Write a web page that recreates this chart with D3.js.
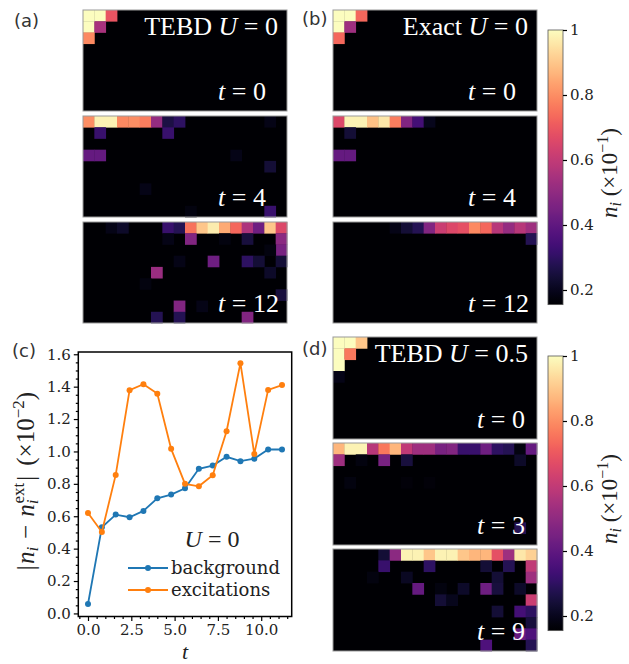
<!DOCTYPE html>
<html>
<head>
<meta charset="utf-8">
<script src="https://cdn.jsdelivr.net/npm/d3@7"></script>
<style>
  body { margin: 0; background: #fff; }
  svg { display: block; }
  .tick text { font-family: "DejaVu Serif", "Liberation Serif", serif; font-size: 15px; fill: #222; }
  .math { font-family: "Liberation Serif", serif; }
  .plab { font-family: "DejaVu Sans", sans-serif; font-size: 18px; fill: #333; }
</style>
</head>
<body>
<svg width="629" height="664"></svg>
<script>
// ---- data ----
// heatmap cells as [row, col, n_i (x10^-1)], everything not listed is below the colour range
var nCols = 18, nRows = 9;
var vmin = 0.155, vmax = 1.0;

var tebd0_t0 = [[0,0,1.0],[0,1,1.0],[0,2,0.69],[1,0,1.0],[1,1,0.55],[2,0,0.79]];
var tebd0_t4 = [[0,0,0.80],[0,1,0.98],[0,2,0.98],[0,3,0.79],[0,4,0.80],[0,5,0.77],[0,6,0.51],[0,7,0.26],[0,8,0.30],[0,16,0.19],
  [1,1,0.32],[1,7,0.32],[3,0,0.41],[3,1,0.41],[3,13,0.19],[4,16,0.24],[6,5,0.19],[8,16,0.32],[8,9,0.18]];
var tebd0_t12 = [[0,2,0.19],[0,3,0.22],[0,7,0.32],[0,8,0.28],[0,9,0.75],[0,10,0.90],[0,11,0.97],[0,12,0.85],[0,13,0.73],[0,14,0.56],[0,15,0.43],[0,16,0.90],[0,17,0.66],
  [1,7,0.19],[1,9,0.47],[1,12,0.18],[1,14,0.25],[1,17,0.49],[2,17,0.45],[2,16,0.18],
  [3,8,0.19],[3,11,0.43],[3,14,0.30],[3,15,0.24],[3,17,0.24],[4,6,0.52],[4,16,0.22],[5,5,0.18],
  [6,17,0.25],[7,8,0.47],[7,10,0.19],[8,6,0.28],[8,8,0.28],[8,14,0.47]];

var exact0_t0 = [[0,0,1.0],[0,1,1.0],[0,2,0.73],[1,0,1.0],[1,1,0.53],[2,0,0.73]];
var exact0_t4 = [[0,0,0.66],[0,1,0.98],[0,2,0.98],[0,3,0.89],[0,4,0.96],[0,5,0.77],[0,6,0.47],[0,7,0.34],[0,8,0.20],
  [1,1,0.24],[3,0,0.41],[3,1,0.41]];
var exact0_t12 = [[0,5,0.19],[0,6,0.24],[0,7,0.28],[0,8,0.47],[0,9,0.62],[0,10,0.66],[0,11,0.68],[0,12,0.79],[0,13,0.73],[0,14,0.58],[0,15,0.51],[0,16,0.58],[0,17,0.53],
  [1,17,0.28]];

var tebd05_t0 = [[0,0,1.0],[0,1,1.0],[0,2,0.90],[1,0,1.0],[1,1,0.76],[2,0,1.0],[3,0,0.19]];
var tebd05_t3 = [[0,0,0.87],[0,1,0.98],[0,2,0.98],[0,3,0.58],[0,4,0.76],[0,5,0.87],[0,6,0.60],[0,7,0.53],[0,8,0.53],[0,9,0.45],[0,10,0.47],[0,11,0.32],[0,12,0.32],[0,13,0.43],[0,14,0.30],[0,15,0.28],[0,16,0.18],[0,17,0.41],
  [1,0,0.53],[1,2,0.18],[1,4,0.45],[1,6,0.25],[1,16,0.22],[3,1,0.18],[3,6,0.17],[3,8,0.17],[7,16,0.28]];
var tebd05_t9 = [[0,4,0.24],[0,5,0.49],[0,6,0.98],[0,7,0.98],[0,8,0.90],[0,9,0.98],[0,10,0.98],[0,11,0.90],[0,12,0.87],[0,13,0.87],[0,14,0.68],[0,15,0.53],[0,16,0.96],[0,17,0.92],
  [1,4,0.32],[1,8,0.30],[1,13,0.24],[1,15,0.28],[1,17,0.60],[2,3,0.18],[2,6,0.21],[2,14,0.24],[2,17,0.53],
  [3,7,0.41],[3,9,0.18],[3,11,0.22],[3,13,0.43],[3,14,0.25],[3,16,0.22],[4,9,0.24],[4,10,0.20],[4,17,0.62],
  [5,14,0.24],[5,16,0.34],[5,17,0.30],[6,17,0.25],[7,16,0.41],[7,17,0.36],[8,13,0.36],[8,17,0.28]];

// panel (c)
var times = [0, 0.8, 1.6, 2.4, 3.2, 4.0, 4.8, 5.6, 6.4, 7.2, 8.0, 8.8, 9.6, 10.4, 11.2];
var background = [0.058, 0.532, 0.61, 0.594, 0.633, 0.711, 0.734, 0.773, 0.893, 0.913, 0.967, 0.94, 0.955, 1.012, 1.012];
var excitations = [0.62, 0.503, 0.855, 1.378, 1.415, 1.357, 1.016, 0.80, 0.785, 0.853, 1.125, 1.545, 0.985, 1.38, 1.41];
var xTicks = [0, 2.5, 5, 7.5, 10];
var yTicks = [0, 0.2, 0.4, 0.6, 0.8, 1.0, 1.2, 1.4, 1.6];
var cbTicks = [0.2, 0.4, 0.6, 0.8, 1];

// ---- drawing ----
var svg = d3.select("svg");
var color = d3.scaleSequential(d3.interpolateMagma).domain([vmin, vmax]).clamp(true);
var serif = "\"DejaVu Serif\", \"Liberation Serif\", serif";

function heatmap(cells, x0, y0, w, h) {
  var g = svg.append("g").attr("transform", "translate(" + x0 + "," + y0 + ")");
  var xs = d3.scaleBand().domain(d3.range(nCols)).range([0, w]);
  var ys = d3.scaleBand().domain(d3.range(nRows)).range([0, h]);
  g.append("rect").attr("width", w).attr("height", h).attr("fill", color(0));
  g.selectAll("rect.cell").data(cells).join("rect")
    .attr("class", "cell")
    .attr("x", function(d) { return xs(d[1]); })
    .attr("y", function(d) { return ys(d[0]); })
    .attr("width", xs.bandwidth() + 0.4)
    .attr("height", ys.bandwidth() + 0.4)
    .attr("fill", function(d) { return color(d[2]); });
  g.append("rect").attr("width", w).attr("height", h)
    .attr("fill", "none").attr("stroke", "#999").attr("stroke-width", 1);
  return g;
}

// math-ish label "name U = val" / "t = val"
function mathLabel(g, x, y, parts, size) {
  var t = g.append("text").attr("class", "math").attr("x", x).attr("y", y)
    .attr("fill", "#fff").style("font-size", size + "px");
  parts.forEach(function(p) {
    t.append("tspan").style("font-style", p[1] ? "italic" : "normal").text(p[0]);
  });
  return t;
}

var hmW = 204, hmH = 101;
var panels = [
  {cells: tebd0_t0,  x: 83,  y: 10,  title: [["TEBD ", 0], ["U", 1], [" = 0", 0]], tv: "0"},
  {cells: tebd0_t4,  x: 83,  y: 116, tv: "4"},
  {cells: tebd0_t12, x: 83,  y: 222, tv: "12"},
  {cells: exact0_t0, x: 333, y: 10,  title: [["Exact ", 0], ["U", 1], [" = 0", 0]], tv: "0"},
  {cells: exact0_t4, x: 333, y: 116, tv: "4"},
  {cells: exact0_t12,x: 333, y: 222, tv: "12"},
  {cells: tebd05_t0, x: 333, y: 337, title: [["TEBD ", 0], ["U", 1], [" = 0.5", 0]], tv: "0", d: 1},
  {cells: tebd05_t3, x: 333, y: 443, tv: "3", d: 1},
  {cells: tebd05_t9, x: 333, y: 549, tv: "9", d: 1}
];

panels.forEach(function(p) {
  var h = p.d ? 102 : hmH;
  var g = heatmap(p.cells, p.x, p.y, hmW, h);
  if (p.title) {
    mathLabel(g, hmW - 9, 25, p.title, 26).attr("text-anchor", "end");
  }
  mathLabel(g, p.d ? 144 : 135, h - 11, [["t", 1], [" = " + p.tv, 0]], 26);
});

// colorbars
var defs = svg.append("defs");
var grad = defs.append("linearGradient").attr("id", "magma")
  .attr("x1", 0).attr("y1", 1).attr("x2", 0).attr("y2", 0);
d3.range(0, 1.0001, 0.02).forEach(function(s) {
  grad.append("stop").attr("offset", s).attr("stop-color", d3.interpolateMagma(s));
});

function colorbar(y1) {
  var x0 = 548, w = 15;
  var cs = d3.scaleLinear().domain([vmin, vmax]).range([y1 + 325 * (1 - vmin), y1]);
  svg.append("rect").attr("x", x0).attr("y", cs(vmax)).attr("width", w)
    .attr("height", cs(vmin) - cs(vmax)).attr("fill", "url(#magma)")
    .attr("stroke", "#555").attr("stroke-width", 0.8);
  var ax = svg.append("g").attr("transform", "translate(" + (x0 + w) + ",0)")
    .call(d3.axisRight(cs).tickValues(cbTicks).tickSize(4).tickPadding(3)
      .tickFormat(function(d) { return d === 1 ? "1" : d3.format(".1f")(d); }));
  ax.select(".domain").remove();
  ax.selectAll(".tick line").attr("stroke", "#000").attr("stroke-width", 1.2);
  var t = svg.append("text").attr("class", "math")
    .attr("transform", "translate(617," + (y1 + 143) + ") rotate(-90)")
    .attr("text-anchor", "middle").style("font-size", "23px").attr("fill", "#222");
  t.append("tspan").style("font-style", "italic").text("n");
  t.append("tspan").attr("dy", 4).style("font-style", "italic").style("font-size", "16px").text("i");
  t.append("tspan").attr("dy", -4).text(" (\u00d710");
  t.append("tspan").attr("dy", -9).style("font-size", "16px").text("\u22121");
  t.append("tspan").attr("dy", 9).text(")");
}
colorbar(30);
colorbar(356);

// panel (c) line chart
var cx0 = 78.3, cx1 = 291.7, cy0 = 352, cy1 = 616.5;
var x = d3.scaleLinear().domain([-0.56, 11.76]).range([cx0, cx1]);
var y = d3.scaleLinear().domain([-0.019, 1.614]).range([cy1, cy0]);

var xMinor = d3.range(-0.5, 11.76, 0.5).filter(function(v) { return Math.abs(v / 2.5 - Math.round(v / 2.5)) > 1e-6; });
var yMinor = d3.range(0, 1.61, 0.05).filter(function(v) { return Math.abs(v / 0.2 - Math.round(v / 0.2)) > 1e-6; });

svg.append("g").attr("transform", "translate(0," + cy1 + ")")
  .call(d3.axisBottom(x).tickValues(xMinor).tickSize(2.5).tickFormat(""))
  .call(function(g) { g.select(".domain").remove(); });
svg.append("g").attr("transform", "translate(" + cx0 + ",0)")
  .call(d3.axisLeft(y).tickValues(yMinor).tickSize(2.5).tickFormat(""))
  .call(function(g) { g.select(".domain").remove(); });
svg.append("g").attr("transform", "translate(0," + cy1 + ")")
  .call(d3.axisBottom(x).tickValues(xTicks).tickSize(4.5).tickPadding(3).tickFormat(d3.format(".1f")))
  .call(function(g) { g.select(".domain").remove(); });
svg.append("g").attr("transform", "translate(" + cx0 + ",0)")
  .call(d3.axisLeft(y).tickValues(yTicks).tickSize(4.5).tickPadding(3).tickFormat(d3.format(".1f")))
  .call(function(g) { g.select(".domain").remove(); });
svg.selectAll(".tick line").attr("stroke", "#000").attr("stroke-width", 1.2);

var series = [
  {name: "background", vals: background, col: "#1f77b4"},
  {name: "excitations", vals: excitations, col: "#ff7f0e"}
];
var line = d3.line().x(function(d) { return x(d[0]); }).y(function(d) { return y(d[1]); });
series.forEach(function(s) {
  var pts = times.map(function(t, i) { return [t, s.vals[i]]; });
  svg.append("path").datum(pts).attr("d", line).attr("fill", "none")
    .attr("stroke", s.col).attr("stroke-width", 1.8);
  svg.append("g").selectAll("circle").data(pts).join("circle")
    .attr("cx", function(d) { return x(d[0]); })
    .attr("cy", function(d) { return y(d[1]); })
    .attr("r", 3).attr("fill", s.col);
});

svg.append("rect").attr("x", cx0).attr("y", cy0).attr("width", cx1 - cx0).attr("height", cy1 - cy0)
  .attr("fill", "none").attr("stroke", "#000").attr("stroke-width", 1.5);

// legend
var lg = svg.append("g").attr("transform", "translate(128,568)");
series.forEach(function(s, i) {
  var row = lg.append("g").attr("transform", "translate(0," + (i * 22) + ")");
  row.append("line").attr("x1", 0).attr("x2", 40).attr("stroke", s.col).attr("stroke-width", 1.8);
  row.append("circle").attr("cx", 20).attr("r", 3).attr("fill", s.col);
  row.append("text").attr("x", 43).attr("y", 6).style("font-family", serif)
    .style("font-size", "18px").attr("fill", "#222").text(s.name);
});
var ul = svg.append("text").attr("class", "math").attr("x", 212).attr("y", 547)
  .attr("text-anchor", "middle").style("font-size", "24px").attr("fill", "#222");
ul.append("tspan").style("font-style", "italic").text("U");
ul.append("tspan").text(" = 0");

// axis labels
var yl = svg.append("text").attr("class", "math")
  .attr("transform", "translate(34,481) rotate(-90)")
  .attr("text-anchor", "middle").style("font-size", "25px").attr("fill", "#222");
yl.append("tspan").text("|");
yl.append("tspan").attr("dx", 1).style("font-style", "italic").text("n");
yl.append("tspan").attr("dy", 4).style("font-style", "italic").style("font-size", "17px").text("i");
yl.append("tspan").attr("dy", -4).attr("dx", 8).text("\u2212");
yl.append("tspan").attr("dx", 8).style("font-style", "italic").text("n");
yl.append("tspan").attr("dy", 4).style("font-style", "italic").style("font-size", "17px").text("i");
yl.append("tspan").attr("dy", -14).attr("dx", -4).style("font-size", "17px").text("ext");
yl.append("tspan").attr("dy", 10).attr("dx", 2).text("|");
yl.append("tspan").attr("dx", 10).text("(\u00d710");
yl.append("tspan").attr("dy", -10).style("font-size", "17px").text("\u22122");
yl.append("tspan").attr("dy", 10).text(")");

svg.append("text").attr("class", "math").attr("x", 185).attr("y", 659)
  .attr("text-anchor", "middle").style("font-size", "22px").style("font-style", "italic")
  .attr("fill", "#222").text("t");

// panel letters
[["(a)", 14, 27], ["(b)", 302, 25], ["(c)", 12, 357], ["(d)", 302, 355]].forEach(function(l) {
  svg.append("text").attr("class", "plab").attr("x", l[1]).attr("y", l[2]).text(l[0]);
});
</script>
</body>
</html>
